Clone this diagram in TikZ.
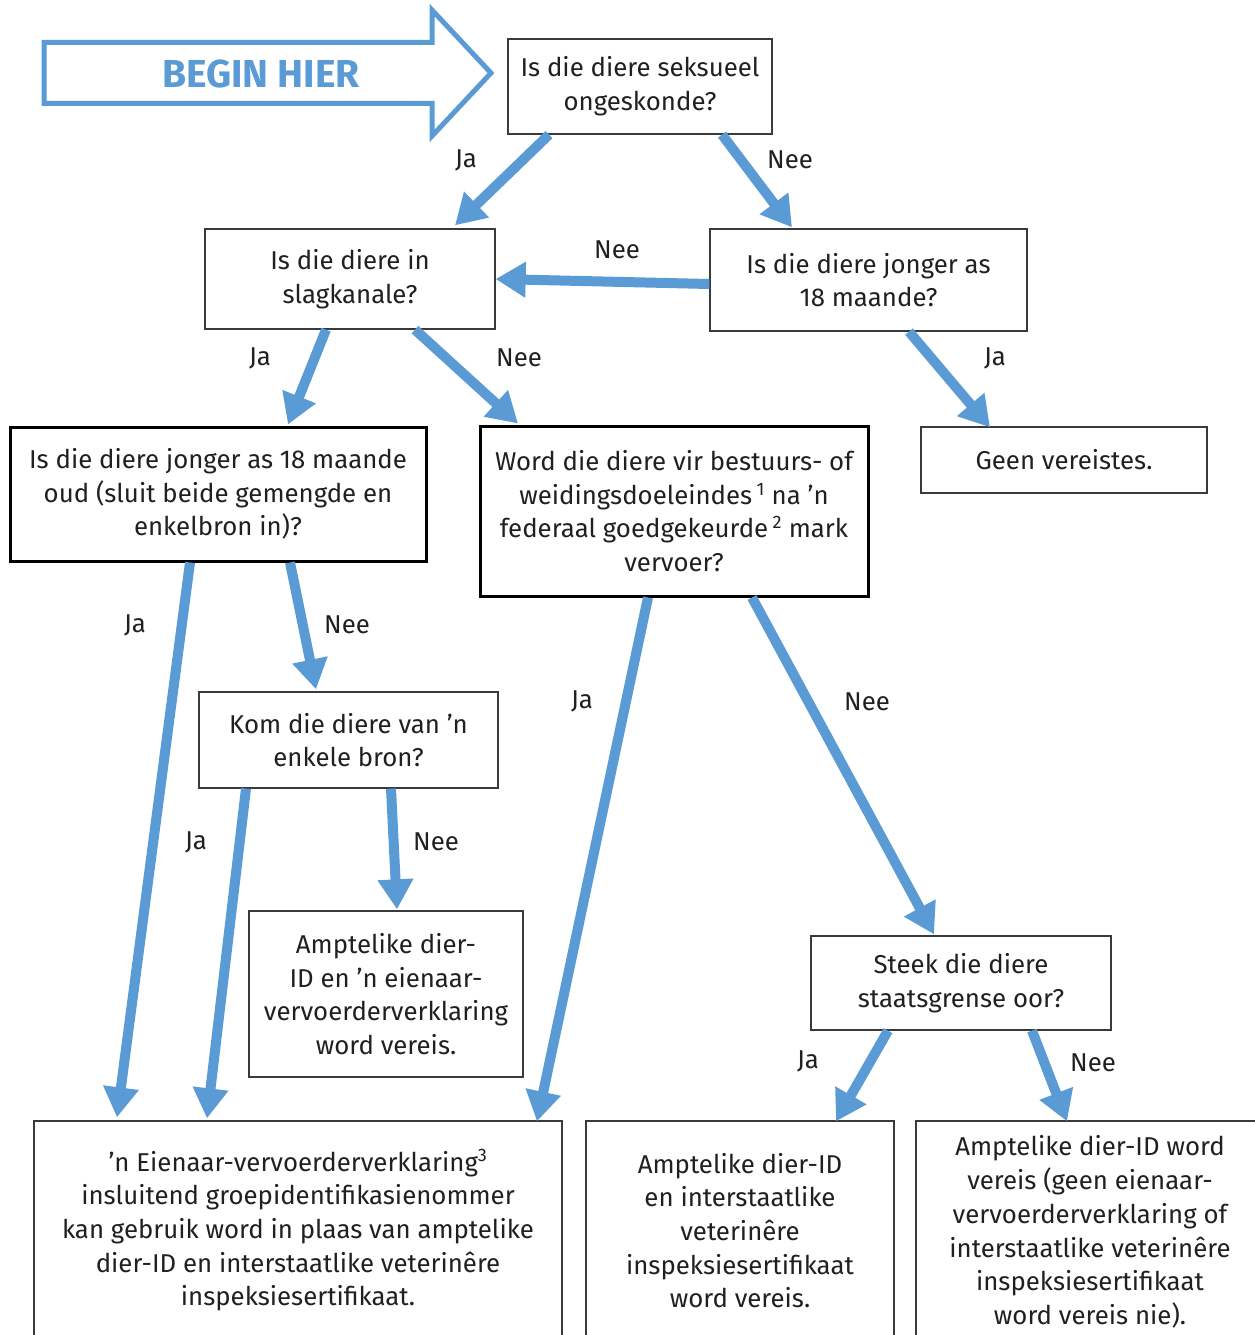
\documentclass[tikz,border=0pt]{standalone}
\usepackage{fontspec}
\setmainfont{Fira Sans}
\usetikzlibrary{arrows.meta}
\definecolor{flowblue}{HTML}{5B9BD5}
\definecolor{txt}{HTML}{231F20}
\definecolor{edge}{HTML}{3A3A3A}
\begin{document}
\begin{tikzpicture}[x=1pt,y=-1pt,
  box/.style={draw=edge,line width=1.3pt,fill=white,inner sep=0pt,align=center,text=txt,
    font=\fontsize{25.8}{33.7}\selectfont},
  boldbox/.style={box,draw=black,line width=3pt},
  flow/.style={draw=flowblue,line width=10pt,-{Triangle[width=34pt,length=30pt]}},
  lbl/.style={text=txt,font=\fontsize{25.8}{30}\selectfont,inner sep=0pt}]
\useasboundingbox (0,0) rectangle (1254,1335);
\fill[white] (0,0) rectangle (1254,1335);

% start arrow
\draw[flowblue,line width=5pt,line join=miter]
  (44,42.5) -- (432,42.5) -- (432,10) -- (491,73) -- (432,136) -- (432,103.5) -- (44,103.5) -- cycle;
\node[text=flowblue,font=\fontsize{39}{44}\selectfont\bfseries,inner sep=0pt] (begin) at (261,74) {BEGIN HIER};

% boxes
\node[box,minimum width=264pt,minimum height=95pt] (q1) at (640,86.5) {Is die diere seksueel\\ongeskonde?};
\node[box,minimum width=290pt,minimum height=100pt] (q2) at (350,279) {Is die diere in\\slagkanale?};
\node[box,minimum width=317pt,minimum height=102pt] (q3) at (868.5,280) {Is die diere jonger as\\18 maande?};
\node[boldbox,minimum width=416pt,minimum height=134pt] (q4) at (218,494) {Is die diere jonger as 18 maande\\oud (sluit beide gemengde en\\enkelbron in)?};
\node[boldbox,minimum width=388pt,minimum height=170pt] (q5) at (674,511) {Word die diere vir bestuurs- of\\weidingsdoeleindes\,\textsuperscript{1} na ’n\\federaal goedgekeurde\,\textsuperscript{2} mark\\vervoer?};
\node[box,minimum width=286pt,minimum height=66pt] (geen) at (1064,460) {Geen vereistes.};
\node[box,minimum width=299pt,minimum height=96pt] (q6) at (348.5,740) {Kom die diere van ’n\\enkele bron?};
\node[box,minimum width=274pt,minimum height=166pt] (r8) at (386,994) {Amptelike dier-\\ID en ’n eienaar-\\vervoerderverklaring\\word vereis.};
\node[box,minimum width=300pt,minimum height=94pt] (q7) at (961,983) {Steek die diere\\staatsgrense oor?};
\node[box,minimum width=528pt,minimum height=219pt] (r1) at (298,1230.5) {’n Eienaar-vervoerderverklaring\textsuperscript{3}\\insluitend groepidentifikasienommer\\kan gebruik word in plaas van amptelike\\dier-ID en interstaatlike veterinêre\\inspeksiesertifikaat.};
\node[box,minimum width=308pt,minimum height=219pt] (r2) at (740,1230.5) {Amptelike dier-ID\\en interstaatlike\\veterinêre\\inspeksiesertifikaat\\word vereis.};
\node[box,minimum width=348pt,minimum height=222pt] (r3) at (1090,1232) {Amptelike dier-ID word\\vereis (geen eienaar-\\vervoerderverklaring of\\interstaatlike veterinêre\\inspeksiesertifikaat\\word vereis nie).};

% connectors
\draw[flow] ([xshift=-91pt]q1.south) -- ([xshift=105pt,yshift=3pt]q2.north);
\draw[flow] ([xshift=82pt]q1.south) -- ([xshift=-76.5pt,yshift=1pt]q3.north);
\draw[flow] ([yshift=-4pt]q3.west) -- (q2.east);
\draw[flow] ([xshift=-24pt]q2.south) -- ([xshift=70pt,yshift=1pt]q4.north);
\draw[flow] ([xshift=65pt]q2.south) -- ([xshift=-156pt,yshift=1pt]q5.north);
\draw[flow] ([xshift=40.5pt]q3.south) -- ([xshift=-74pt,yshift=-1pt]geen.north);
\draw[flow] ([xshift=-28pt]q4.south) -- ([xshift=-181pt,yshift=3pt]r1.north);
\draw[flow] ([xshift=72pt]q4.south) -- ([xshift=-32.5pt,yshift=2pt]q6.north);
\draw[flow] ([xshift=-102.5pt]q6.south) -- ([xshift=-91pt,yshift=2pt]r1.north);
\draw[flow] ([xshift=42.5pt]q6.south) -- ([xshift=11pt,yshift=1pt]r8.north);
\draw[flow] ([xshift=-26pt]q5.south) -- ([xshift=239pt,yshift=-1pt]r1.north);
\draw[flow] ([xshift=78pt]q5.south) -- ([xshift=-27pt,yshift=1pt]q7.north);
\draw[flow] ([xshift=-73pt]q7.south) -- ([xshift=96pt,yshift=-1pt]r2.north);
\draw[flow] ([xshift=71pt]q7.south) -- ([xshift=-23pt,yshift=-1pt]r3.north);

% labels
\node[lbl] (l1) at (466,160) {Ja};
\node[lbl] (l2) at (790,160) {Nee};
\node[lbl] (l3) at (617,250) {Nee};
\node[lbl] (l4) at (260,358) {Ja};
\node[lbl] (l5) at (519,358) {Nee};
\node[lbl] (l6) at (995,358) {Ja};
\node[lbl] (l7) at (135,625) {Ja};
\node[lbl] (l8) at (347,625) {Nee};
\node[lbl] (l9) at (196,842) {Ja};
\node[lbl] (l10) at (436,842) {Nee};
\node[lbl] (l11) at (582,701) {Ja};
\node[lbl] (l12) at (867,702) {Nee};
\node[lbl] (l13) at (808,1061) {Ja};
\node[lbl] (l14) at (1093,1063) {Nee};
\end{tikzpicture}
\end{document}
